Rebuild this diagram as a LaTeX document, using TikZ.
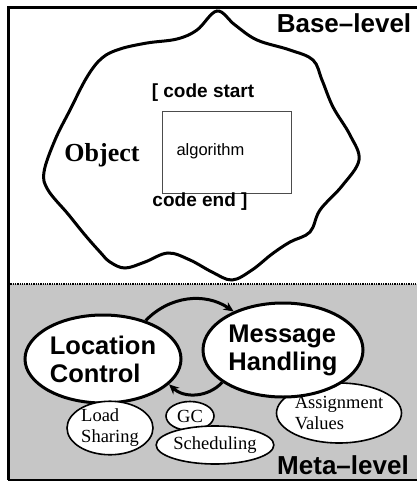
\documentclass[tikz,border=0pt]{standalone}
\usepackage{fontspec}
\setmainfont{Liberation Serif}
\newfontfamily\helv{Liberation Sans}
\usetikzlibrary{shapes.geometric, arrows.meta, positioning}

\tikzset{
  bigoval/.style={ellipse, draw, line width=3pt, fill=white, inner sep=0pt,
    align=left, font=\helv\bfseries\fontsize{25.5}{28}\selectfont},
  smalloval/.style={ellipse, draw, line width=1.6pt, fill=white, inner sep=0pt,
    align=left, font=\fontsize{18.5}{21}\selectfont},
  levellabel/.style={font=\helv\bfseries\fontsize{26}{28}\selectfont},
  codelabel/.style={font=\helv\bfseries\fontsize{19}{22}\selectfont},
  loop/.style={line width=3pt, -{Stealth[length=10pt,width=9pt]}}
}

\begin{document}
\begin{tikzpicture}[x=1pt, y=-1pt, node distance=180pt, on grid]
    \useasboundingbox (0,0) rectangle (417,482);

    % meta-level band and frame
    \fill[gray!45] (8,284) rectangle (420,480);
    \draw[densely dotted, line width=1.3pt] (8,284) -- (420,284);
    \draw[line width=3pt] (420,7) -- (8,7) -- (8,480);
    \draw[line width=1.5pt] (8,480) -- (420,480);

    % the object
    \draw[line width=3pt] plot[smooth cycle, tension=0.6] coordinates {
        (217,11) (235,25) (257,40) (290,50) (313,60) (322,80) (333,107)
        (350,135) (359,160) (342,186) (320,210) (310,232) (290,242)
        (272,254) (252,270) (232,280) (212,272) (190,260) (168,253)
        (145,262) (125,268) (110,262) (100,252) (85,235) (68,214)
        (48,190) (44,172) (55,140) (70,110) (87,77) (102,58) (120,49)
        (147,43) (177,39) (197,30)};

    \node (base) [levellabel] at (344,23) {Base\textendash level};
    \node (obj) [font=\bfseries\fontsize{26}{28}\selectfont] at (102,155) {Object};
    \node (alg) [draw=black!70, line width=0.6pt, minimum width=129pt,
        minimum height=82pt] at (227,152) {};
    \node (algtxt) [font=\helv\fontsize{16.5}{20}\selectfont, anchor=west]
        at (173,151) {algorithm};
    \node (start) [codelabel] at (203,93) {[ code start};
    \node (end) [codelabel] at (200,202) {code end ]};

    % meta-level objects
    \node (lc) [bigoval, minimum width=156pt, minimum height=88pt]
        at (103,359) {Location\\Control};
    \node (asg) [smalloval, minimum width=122pt, minimum height=60pt]
        at (339,413) {Assignment\\Values};
    \node (mh) [bigoval, minimum width=160pt, minimum height=94pt,
        right=of lc, yshift=9pt] {Message\\Handling};
    \node (ls) [smalloval, minimum width=86pt, minimum height=44pt]
        at (110,428) {Load\\Sharing};
    \node (gc) [smalloval, minimum width=48pt, minimum height=29pt]
        at (190,416) {GC};
    \node (sch) [smalloval, minimum width=96pt, minimum height=38pt]
        at (215,445) {Scheduling};

    \path [loop] (lc.42) edge [bend left=40] (mh.142);
    \path [loop] (mh.208) edge [bend left=45] (lc.-21);

    \node (meta) [levellabel] at (343,465) {Meta\textendash level};
\end{tikzpicture}
\end{document}
